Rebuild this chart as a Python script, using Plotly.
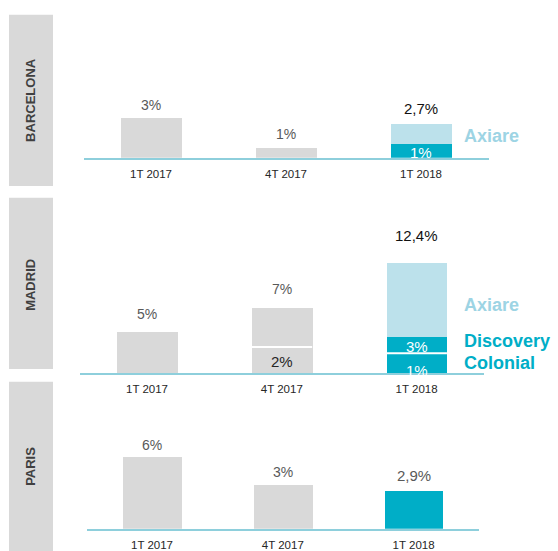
import plotly.graph_objects as go

# ---------------- data ----------------
categories = ["1T 2017", "4T 2017", "1T 2018"]

# Barcelona (bar heights as drawn)
bcn_gray = [3.0, 0.7, None]
bcn_colonial = [None, None, 1.0]
bcn_axiare = [None, None, 1.5]
bcn_top_labels = ["3%", "1%", "2,7%"]
bcn_inside_labels = ["1%"]

# Madrid
mad_gray_low = [4.7, 2.9, None]
mad_gray_high = [None, 4.4, None]
mad_colonial = [None, None, 2.2]
mad_discovery = [None, None, 1.9]
mad_axiare = [None, None, 8.3]
mad_top_labels = ["5%", "7%", "12,4%"]
mad_inside_labels = ["2%", "3%", "1%"]

# Paris
par_gray = [6.0, 3.7, None]
par_colonial = [None, None, 3.2]
par_top_labels = ["6%", "3%", "2,9%"]

cities = ["BARCELONA", "MADRID", "PARIS"]
legend_names = ["Axiare", "Discovery", "Colonial"]

# ---------------- style ----------------
W, H = 558, 551
GRAY = "#d9d9d9"
TEAL = "#00aec7"
LIGHT = "#bce1eb"
AXIARE_TXT = "#9dd4e4"
LINE = "#8ecfdc"
FONT = "Liberation Sans, Arial, sans-serif"
BAR_W = 0.45


def px(p):
    return p / W


def py(p):
    return 1 - p / H


fig = go.Figure()


def add_bar(vals, color, ax):
    fig.add_trace(go.Bar(
        x=categories, y=vals, width=BAR_W,
        marker=dict(color=color, line=dict(width=0)),
        xaxis="x" + ax, yaxis="y" + ax, showlegend=False, hoverinfo="skip",
    ))


add_bar(bcn_gray, GRAY, "")
add_bar(bcn_colonial, TEAL, "")
add_bar(bcn_axiare, LIGHT, "")

add_bar(mad_gray_low, GRAY, "2")
add_bar(mad_gray_high, GRAY, "2")
add_bar(mad_colonial, TEAL, "2")
add_bar(mad_discovery, TEAL, "2")
add_bar(mad_axiare, LIGHT, "2")

add_bar(par_gray, GRAY, "3")
add_bar(par_colonial, TEAL, "3")

panels = {
    "": dict(xd=(83.5, 488.5), yd=(29.5, 159.5), scale=13.5),
    "2": dict(xd=(79.6, 484.0), yd=(227.0, 377.0), scale=9.0),
    "3": dict(xd=(86.6, 479.0), yd=(414.5, 534.5), scale=12.0),
}

layout = dict(
    width=W, height=H, autosize=False,
    margin=dict(l=0, r=0, t=0, b=0),
    paper_bgcolor="white", plot_bgcolor="white",
    barmode="stack", bargap=0,
    font=dict(family=FONT),
    showlegend=False,
)
for ax, p in panels.items():
    layout["xaxis" + ax] = dict(
        domain=[px(p["xd"][0]), px(p["xd"][1])],
        anchor="y" + ax, type="category", range=[-0.5, 2.5],
        showline=True, linecolor=LINE, linewidth=1.5, showgrid=False,
        ticks="outside", ticklen=5, tickcolor="rgba(0,0,0,0)",
        tickfont=dict(size=11.5, color="#262626", family=FONT),
        zeroline=False, fixedrange=True,
    )
    layout["yaxis" + ax] = dict(
        domain=[py(p["yd"][1]), py(p["yd"][0])],
        anchor="x" + ax, range=[0, (p["yd"][1] - p["yd"][0]) / p["scale"]],
        visible=False, fixedrange=True,
    )
fig.update_layout(**layout)

ann = []
shapes = []


def total(*series):
    out = []
    for i in range(3):
        out.append(sum(v[i] for v in series if v[i] is not None))
    return out


def top_labels(ax, tots, labels, shifts, colors, sizes):
    for i in range(3):
        ann.append(dict(
            x=categories[i], y=tots[i], xref="x" + ax, yref="y" + ax,
            text=labels[i], showarrow=False, yanchor="middle",
            yshift=shifts[i], font=dict(size=sizes[i], color=colors[i], family=FONT),
        ))


top_labels("", total(bcn_gray, bcn_colonial, bcn_axiare), bcn_top_labels,
           [13, 14, 16], ["#595959", "#595959", "#111111"], [14, 14, 15])
top_labels("2", total(mad_gray_low, mad_gray_high, mad_colonial, mad_discovery, mad_axiare),
           mad_top_labels, [17, 19, 27], ["#595959", "#595959", "#111111"], [14, 14, 15])
top_labels("3", total(par_gray, par_colonial), par_top_labels,
           [12, 13, 15], ["#595959", "#595959", "#595959"], [14, 14, 15])


def inside(ax, cat, ymid, text, shift, color):
    ann.append(dict(
        x=cat, y=ymid, xref="x" + ax, yref="y" + ax, text=text, showarrow=False,
        yanchor="middle", yshift=shift, font=dict(size=15, color=color, family=FONT),
    ))


inside("", categories[2], bcn_colonial[2] / 2, bcn_inside_labels[0], -1, "white")
inside("2", categories[1], mad_gray_low[1] / 2, mad_inside_labels[0], -2, "#262626")
inside("2", categories[2], mad_colonial[2] + mad_discovery[2] / 2, mad_inside_labels[1], -2, "white")
inside("2", categories[2], mad_colonial[2] / 2, mad_inside_labels[2], -7, "white")


# white separators between stacked segments (Madrid)
def separator(ax, idx, yval):
    shapes.append(dict(type="line", xref="x" + ax, yref="y" + ax,
                       x0=idx - BAR_W / 2, x1=idx + BAR_W / 2, y0=yval, y1=yval,
                       line=dict(color="white", width=2), layer="above"))


separator("2", 1, mad_gray_low[1])
separator("2", 2, mad_colonial[2])


def side(text, ypix, color):
    ann.append(dict(
        x=px(462), y=py(ypix), xref="paper", yref="paper", text="<b>%s</b>" % text,
        showarrow=False, xanchor="left", yanchor="middle",
        font=dict(size=18, color=color, family=FONT),
    ))


side(legend_names[0], 137.5, AXIARE_TXT)
side(legend_names[0], 308.5, AXIARE_TXT)
side(legend_names[1], 344.5, TEAL)
side(legend_names[2], 367.5, TEAL)

# city side labels with gray boxes
boxes = [(15, 188), (200, 373), (386, 560)]
centers = [101, 288, 472]
for (t, b), c, name in zip(boxes, centers, cities):
    shapes.append(dict(type="rect", xref="paper", yref="paper",
                       x0=px(9), x1=px(53), y0=py(b), y1=py(t),
                       fillcolor=GRAY, line=dict(width=0), layer="below"))
    ann.append(dict(x=px(31), y=py(c), xref="paper", yref="paper",
                    text="<b>%s</b>" % name, textangle=-90, showarrow=False,
                    xanchor="center", yanchor="middle",
                    font=dict(size=13, color="#404040", family=FONT)))

fig.update_layout(annotations=ann, shapes=shapes)
fig.write_html("out.html", config={"displayModeBar": False},
               post_script="document.body.style.margin='0';document.body.style.overflow='hidden';")
